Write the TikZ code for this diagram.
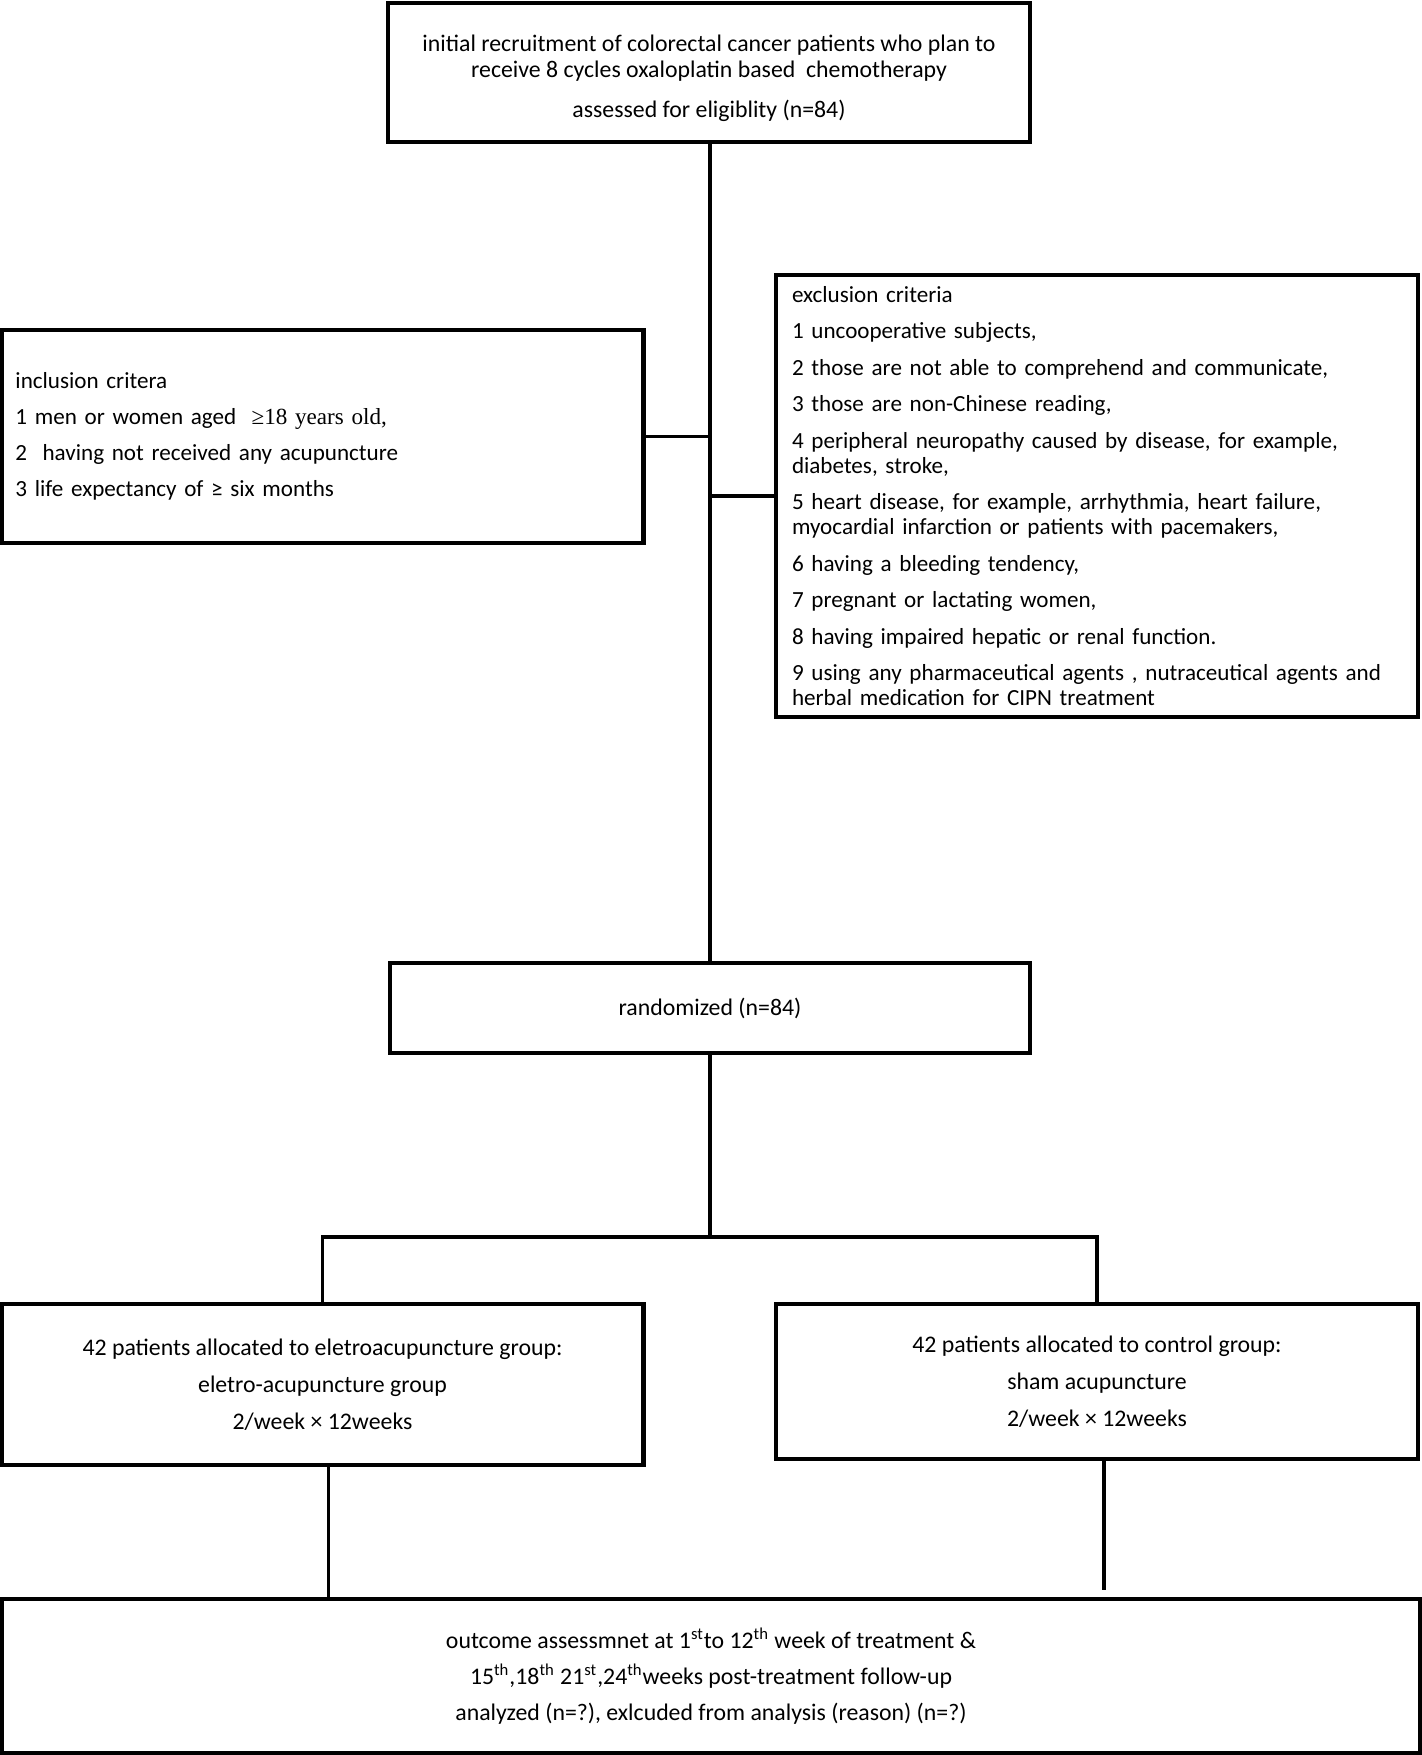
\documentclass[tikz,border=0pt]{standalone}
\usepackage{fontspec}
\setmainfont{Carlito}
\newfontfamily\timesfont{Liberation Serif}
\usetikzlibrary{positioning}

\begin{document}
\begin{tikzpicture}[
    x=0.5pt,y=-0.5pt,
    block/.style={%
      draw,
      rectangle,
      line width=2.2pt,
      inner sep=0pt,
      align=center,
      font=\fontsize{11.9}{13}\selectfont,
    },
    listblock/.style={%
      block,
      align=left,
      font=\fontsize{11.55}{12.5}\selectfont,
    },
    link/.style={line width=1.6pt},
  ]
    \useasboundingbox (0,0) rectangle (1422,1755);

    \node [block, minimum width=321pt, minimum height=69.5pt] (recruit) at (709,72.5)
      {\rule{0pt}{14pt}initial recruitment of colorectal cancer patients who plan to\\
       receive 8 cycles oxaloplatin based\ \ chemotherapy\\[7.25pt]
       assessed for eligiblity (n=84)};
    \node [listblock, minimum height=106.5pt, inner xsep=7pt, text width=307pt] (incl) at (322.5,436.5)
      {inclusion critera\\[5.5pt]
       1 men or women aged\ \ {\timesfont ≥18 years old,}\\[5.5pt]
       2\ \ having not received any acupuncture\\[5.5pt]
       3 life expectancy of ≥ six months};
    \node [listblock, minimum height=221pt, inner xsep=8pt, text width=305pt] (excl) at (1097,496)
      {exclusion criteria\\[5.75pt]
       1 uncooperative subjects,\\[5.75pt]
       2 those are not able to comprehend and communicate,\\[5.75pt]
       3 those are non-Chinese reading,\\[5.75pt]
       4 peripheral neuropathy caused by disease, for example,\\
       diabetes, stroke,\\[5.75pt]
       5 heart disease, for example, arrhythmia, heart failure,\\
       myocardial infarction or patients with pacemakers,\\[5.75pt]
       6 having a bleeding tendency,\\[5.75pt]
       7 pregnant or lactating women,\\[5.75pt]
       8 having impaired hepatic or renal function.\\[5.75pt]
       9 using any pharmaceutical agents , nutraceutical agents and\\
       herbal medication for CIPN treatment};
    \node [block, minimum width=320pt, minimum height=45pt] (rand) at (710,1008) {randomized (n=84)};
    \node [block, minimum width=321pt, minimum height=80.5pt] (ea) at (322.5,1384.5)
      {42 patients allocated to eletroacupuncture group:\\[5.5pt]
       eletro-acupuncture group\\[5.5pt]
       2/week × 12weeks};
    \node [block, minimum width=321pt, minimum height=77.5pt] (sham) at (1097,1381.5)
      {42 patients allocated to control group:\\[5.5pt]
       sham acupuncture\\[5.5pt]
       2/week × 12weeks};
    \node [block, minimum width=709pt, minimum height=77pt] (outcome) at (711,1676)
      {outcome assessmnet at 1\textsuperscript{st}to 12\textsuperscript{th} week of treatment \&\\[5pt]
       15\textsuperscript{th},18\textsuperscript{th} 21\textsuperscript{st},24\textsuperscript{th}weeks post-treatment follow-up\\[5pt]
       analyzed (n=?), exlcuded from analysis (reason) (n=?)};

    \coordinate (fork) at (710,1237);
    \coordinate (shamend) at (1104,1590);

    \draw [link] (recruit.south -| rand.north) -- (rand.north);
    \draw [link] (incl.east) -- (incl.east -| rand.north);
    \draw [link] (excl.west) -- (excl.west -| rand.north);
    \draw [link] (rand.south) -- (fork);
    \draw [link] (ea.north) |- (fork) -| (sham.north);
    \draw [link] ([xshift=3pt]ea.south) -- ([xshift=3pt]ea.south |- outcome.north);
    \draw [link] (sham.south -| shamend) -- (shamend);
\end{tikzpicture}
\end{document}
